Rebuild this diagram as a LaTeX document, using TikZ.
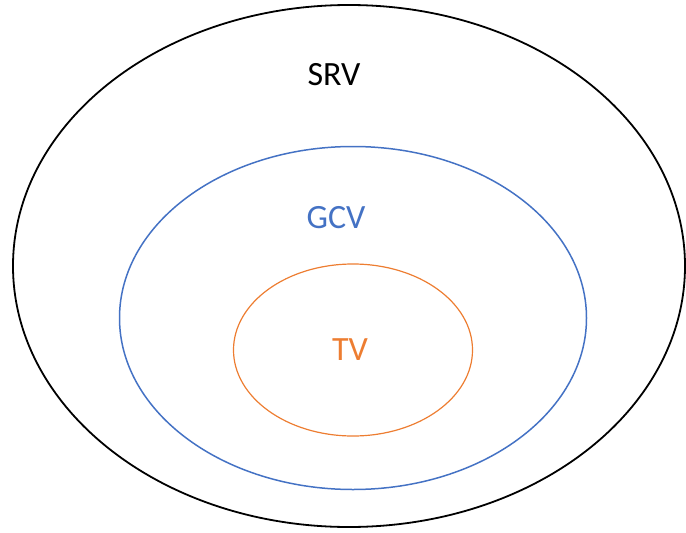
\documentclass[tikz,border=0pt]{standalone}
\usepackage{fontspec}
\setmainfont{Carlito}
\usetikzlibrary{shapes.geometric}
\definecolor{srvblack}{HTML}{000000}
\definecolor{gcvblue}{HTML}{4472C4}
\definecolor{tvorange}{HTML}{ED7D31}
\begin{document}
\begin{tikzpicture}[x=1pt,y=-1pt,
  ring/.style={ellipse,inner sep=0pt,outer sep=0pt},
  setlabel/.style={font=\fontsize{34}{40}\selectfont,inner sep=0pt}]
\useasboundingbox (0,0) rectangle (686,533);
% nested sets drawn as ellipses
\node[ring,draw=srvblack,line width=1.8pt,minimum width=672pt,minimum height=522pt] (srv) at (349,266) {};
\node[ring,draw=gcvblue,line width=1.5pt,minimum width=467pt,minimum height=343pt] (gcv) at (353,318) {};
\node[ring,draw=tvorange,line width=1.2pt,minimum width=239pt,minimum height=172pt] (tv) at (353,350) {};
% labels
\node[setlabel,text=srvblack] (srvlabel) at (334,75) {SRV};
\node[setlabel,text=gcvblue] (gcvlabel) at (336,218) {GCV};
\node[setlabel,text=tvorange] (tvlabel) at (350,350) {TV};
\end{tikzpicture}
\end{document}
